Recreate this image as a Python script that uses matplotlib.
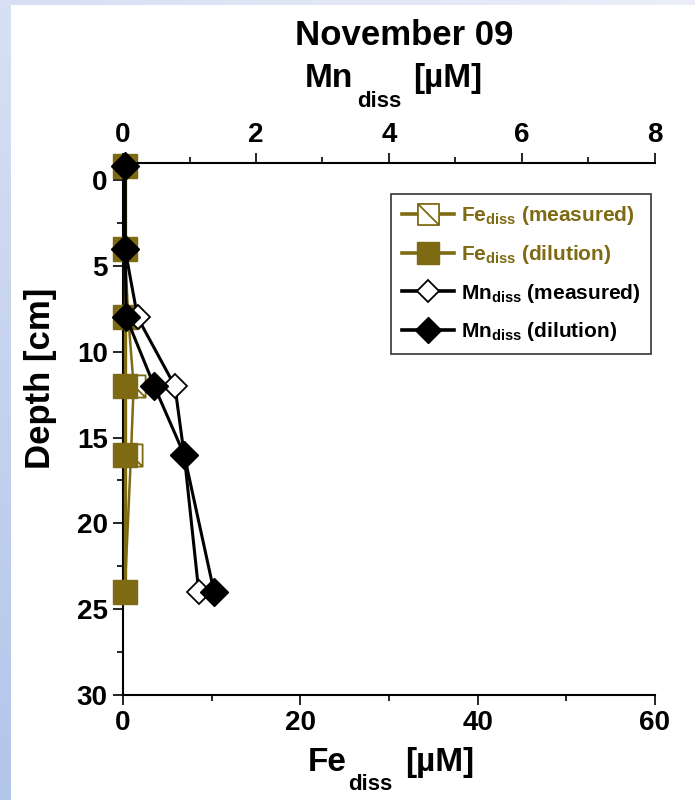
import numpy as np
import matplotlib
matplotlib.use("Agg")
import matplotlib.pyplot as plt
from matplotlib.path import Path
from matplotlib.colors import LinearSegmentedColormap

# ---- data ----
depth = [-0.8, 4, 8, 12, 16, 24]
fe_measured = [0.2, 0.2, 0.6, 1.2, 0.9, 0.2]
fe_dilution = [0.2, 0.2, 0.2, 0.2, 0.2, 0.2]
mn_measured = [0.03, 0.03, 0.22, 0.78, 0.92, 1.14]
mn_dilution = [0.03, 0.03, 0.05, 0.47, 0.92, 1.37]

title = "November 09"
fe_ticks = [0, 20, 40, 60]
mn_ticks = [0, 2, 4, 6, 8]
depth_ticks = [0, 5, 10, 15, 20, 25, 30]

OLIVE = "#7f6a14"

plt.rcParams['font.family'] = ['Liberation Sans', 'DejaVu Sans']
plt.rcParams['font.weight'] = 'bold'
plt.rcParams['mathtext.fontset'] = 'custom'
plt.rcParams['mathtext.rm'] = 'Liberation Sans:bold'
plt.rcParams['mathtext.bf'] = 'Liberation Sans:bold'
plt.rcParams['mathtext.it'] = 'Liberation Sans:bold'
plt.rcParams['mathtext.sf'] = 'Liberation Sans:bold'

W, H = 695, 800
fig = plt.figure(figsize=(W / 100, H / 100), dpi=100)
fig.patch.set_facecolor('white')

# background strips (gradient)
axl = fig.add_axes([0, 0, 11 / W, 1])
cm_l = LinearSegmentedColormap.from_list('l', ['#d8e0f3', '#b2c5ea'])
axl.imshow(np.linspace(0, 1, 256).reshape(-1, 1), aspect='auto', cmap=cm_l)
axl.axis('off')
axt = fig.add_axes([11 / W, 1 - 5 / H, 1 - 11 / W, 5 / H])
cm_t = LinearSegmentedColormap.from_list('t', ['#d6dff3', '#eceff9'])
axt.imshow(np.linspace(0, 1, 256).reshape(1, -1), aspect='auto', cmap=cm_t)
axt.axis('off')

left, right, top, bottom = 123, 655, 163, 695
ax = fig.add_axes([left / W, 1 - bottom / H, (right - left) / W, (bottom - top) / H])
ax.set_facecolor('none')
ax2 = ax.twiny()

# custom marker: square with diagonal
sq = Path([(-1, -1), (1, -1), (1, 1), (-1, 1), (-1, -1), (-1, 1), (1, -1)],
          [Path.MOVETO, Path.LINETO, Path.LINETO, Path.LINETO, Path.CLOSEPOLY,
           Path.MOVETO, Path.LINETO])

l1, = ax.plot(fe_measured, depth, color=OLIVE, lw=1.8, marker=sq, ms=16,
              mfc='white', mec=OLIVE, mew=1.3, zorder=2, clip_on=False)
l2, = ax.plot(fe_dilution, depth, color=OLIVE, lw=2.4, marker='s', ms=17,
              mfc=OLIVE, mec=OLIVE, zorder=3, clip_on=False)
l3, = ax2.plot(mn_measured, depth, color='black', lw=2.2, marker='D', ms=12,
               mfc='white', mec='black', mew=1.3, zorder=4, clip_on=False)
l4, = ax2.plot(mn_dilution, depth, color='black', lw=2.2, marker='D', ms=14,
               mfc='black', mec='black', zorder=5, clip_on=False)

ax.set_xlim(0, 60)
ax2.set_xlim(0, 8)
ax.set_ylim(30, -1)

ax.set_xticks(fe_ticks)
ax.set_xticks([10, 30, 50], minor=True)
ax2.set_xticks(mn_ticks)
ax2.set_xticks([1, 3, 5, 7], minor=True)
ax.set_yticks(depth_ticks)
ax.set_yticks(np.arange(2.5, 30, 5), minor=True)

for a in (ax, ax2):
    a.spines['right'].set_visible(False)
    for s in a.spines.values():
        s.set_linewidth(1.5)
    a.tick_params(which='major', length=7, width=1.2, labelsize=20, pad=4)
    a.tick_params(which='minor', length=4.5, width=1.2)
ax.spines['top'].set_visible(False)
ax2.spines['bottom'].set_visible(False)
ax2.spines['left'].set_visible(False)
for t in ax.get_xticklabels() + ax.get_yticklabels() + ax2.get_xticklabels():
    t.set_fontweight('bold')


def ptext(x, y, s, size, **kw):
    fig.text(x / W, 1 - y / H, s, fontsize=size, fontweight='bold',
             va='baseline', ha='left', **kw)


# top (Mn) axis label
ptext(305, 87, 'Mn', 24)
ptext(357, 107, 'diss', 16)
ptext(413, 87, '[µM]', 24)
# bottom (Fe) axis label
ptext(308, 771, 'Fe', 24)
ptext(348, 790, 'diss', 16)
ptext(405, 771, '[µM]', 24)

ax.set_ylabel('Depth [cm]', fontsize=25, fontweight='bold')
ax.yaxis.set_label_coords((57 - left) / (right - left), (bottom - 378) / (bottom - top))

fig.text(404 / W, 1 - 45 / H, title, fontsize=25, fontweight='bold',
         ha='center', va='baseline')

# legend
handles = [l1, l2, l3, l4]
labels = [r'Fe$_{\rm diss}$ (measured)', r'Fe$_{\rm diss}$ (dilution)',
          r'Mn$_{\rm diss}$ (measured)', r'Mn$_{\rm diss}$ (dilution)']
leg = ax2.legend(handles, labels, loc='upper right',
                 bbox_to_anchor=((651 - left) / (right - left), (bottom - 194) / (bottom - top)),
                 borderaxespad=0, fontsize=15, frameon=True, fancybox=False,
                 edgecolor='black', handlelength=2.5, handletextpad=0.35,
                 labelspacing=0.75, borderpad=0.5, markerscale=0.95)
leg.get_frame().set_linewidth(1.2)
for txt, c in zip(leg.get_texts(), [OLIVE, OLIVE, 'black', 'black']):
    txt.set_color(c)
    txt.set_fontweight('bold')
for lh in leg.get_lines():
    lh.set_linewidth(2.6)

fig.savefig('out.png', dpi=100)
